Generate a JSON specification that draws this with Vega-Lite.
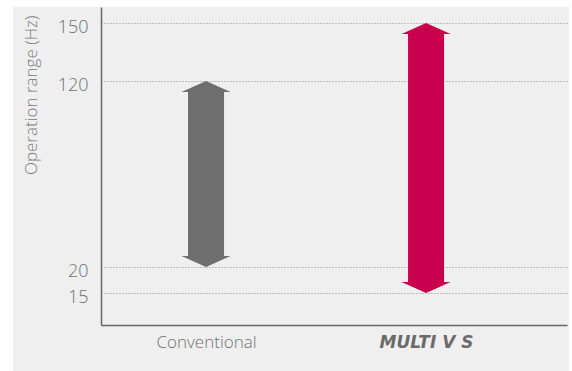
{
  "$schema": "https://vega.github.io/schema/vega-lite/v6.json",
  "width": 556,
  "height": 364,
  "autosize": {"type": "none"},
  "padding": {"left": 13, "top": 7, "right": 3, "bottom": 0},
  "background": "#ffffff",
  "config": {
    "view": {"fill": "#efefef", "stroke": null},
    "font": "Open Sans"
  },
  "data": {
    "values": [
      {"system": "Conventional", "min": 20, "max": 120},
      {"system": "MULTI V S", "min": 15, "max": 150}
    ]
  },
  "encoding": {
    "x": {
      "field": "system",
      "type": "nominal",
      "sort": null,
      "scale": {"type": "point", "range": [88, 554], "padding": 0.559, "align": 0.427},
      "axis": {
        "title": null,
        "offset": -46,
        "domainColor": "#666666",
        "domainWidth": 1.5,
        "ticks": false,
        "grid": false,
        "labelPadding": 9,
        "labelFontSize": 17,
        "labelFont": {"condition": {"test": "datum.value === 'MULTI V S'", "value": "DejaVu Sans"}, "value": "Open Sans"},
        "labelFontWeight": {"condition": {"test": "datum.value === 'MULTI V S'", "value": "bold"}, "value": 300},
        "labelFontStyle": {"condition": {"test": "datum.value === 'MULTI V S'", "value": "italic"}, "value": "normal"},
        "labelColor": {"condition": {"test": "datum.value === 'MULTI V S'", "value": "#6a6a6a"}, "value": "#707070"},
        "labelAngle": 0
      }
    },
    "color": {
      "field": "system",
      "type": "nominal",
      "scale": {"domain": ["Conventional", "MULTI V S"], "range": ["#6e6e6e", "#c8004d"]},
      "legend": null
    }
  },
  "layer": [
    {
      "mark": {"type": "bar", "size": 36, "yOffset": -10, "y2Offset": 10},
      "encoding": {
        "y": {
          "field": "min",
          "type": "quantitative",
          "scale": {"type": "linear", "zero": false, "nice": false, "domain": [0, 15, 20, 120, 150, 200], "range": [318, 286, 260, 74, 16, 0]},
          "axis": {
            "title": "Operation range (Hz)",
            "offset": -88,
            "values": [15, 20, 120, 150],
            "domainColor": "#666666",
            "domainWidth": 1.5,
            "ticks": false,
            "grid": true,
            "gridColor": "#888888",
            "gridDash": [1, 2],
            "gridWidth": 1,
            "labelPadding": 13,
            "labelFontSize": 18,
            "labelFontWeight": 300,
            "labelColor": "#707070",
            "labelOffset": 4,
            "titleFontSize": 17,
            "titleFontWeight": 300,
            "titleColor": "#7a7a7a",
            "titlePadding": 17,
            "titleAnchor": "end",
            "titleY": 8
          }
        },
        "y2": {"field": "max"}
      }
    },
    {
      "mark": {"type": "point", "shape": "M0,0L1,0.45L-1,0.45Z", "size": 2401, "filled": true, "opacity": 1},
      "encoding": {"y": {"field": "max", "type": "quantitative"}}
    },
    {
      "mark": {"type": "point", "shape": "M0,0L1,-0.45L-1,-0.45Z", "size": 2401, "filled": true, "opacity": 1},
      "encoding": {"y": {"field": "min", "type": "quantitative"}}
    }
  ]
}
